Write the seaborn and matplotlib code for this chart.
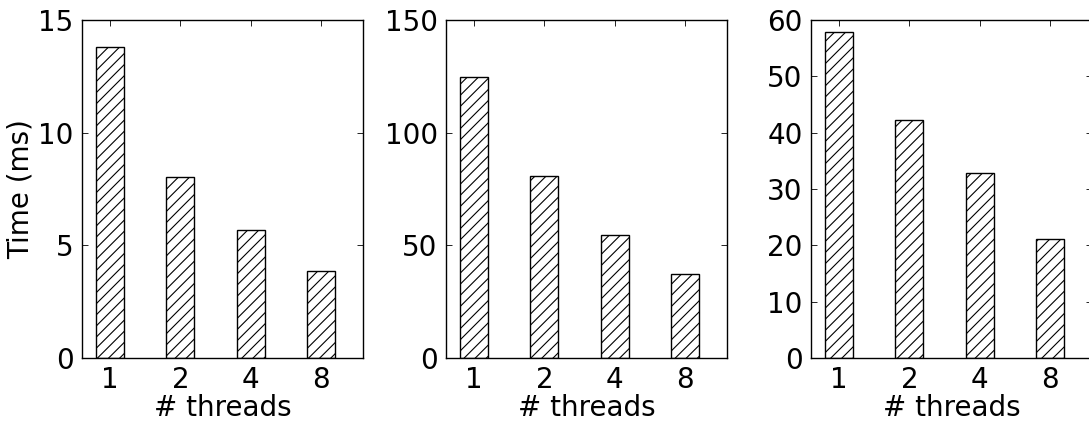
import matplotlib
matplotlib.use("Agg")
import matplotlib.pyplot as plt
import seaborn as sns
import pandas as pd

threads = ["1", "2", "4", "8"]
times_a = [13.8, 8.03, 5.67, 3.85]
times_b = [124.5, 80.7, 54.8, 37.2]
times_c = [57.8, 42.3, 32.8, 21.1]
ylims = [15, 150, 60]
yticks = [[0, 5, 10, 15], [0, 50, 100, 150], [0, 10, 20, 30, 40, 50, 60]]

sns.set_theme(style="white")
plt.rcParams.update({
    "font.family": ["DejaVu Sans"],
    "font.size": 20,
    "text.color": "black",
    "axes.labelcolor": "black",
    "xtick.color": "black",
    "ytick.color": "black",
    "axes.edgecolor": "black",
    "axes.linewidth": 1.0,
    "hatch.linewidth": 0.8,
    "hatch.color": "black",
    "xtick.direction": "in",
    "ytick.direction": "in",
    "xtick.top": True,
    "ytick.right": True,
    "xtick.major.size": 4,
    "ytick.major.size": 4,
    "xtick.major.width": 0.6,
    "ytick.major.width": 0.6,
    "xtick.major.pad": 6,
    "ytick.major.pad": 6,
    "xtick.bottom": True,
    "ytick.left": True,
})

fig = plt.figure(figsize=(10.89, 4.23), dpi=100)
lefts = [82 / 1089, 446 / 1089, 811 / 1089]
w = 281 / 1089
b = (423 - 358) / 423
h = 338 / 423

for i, vals in enumerate([times_a, times_b, times_c]):
    ax = fig.add_axes([lefts[i], b, w, h])
    df = pd.DataFrame({"threads": threads, "time": vals})
    sns.barplot(data=df, x="threads", y="time", ax=ax, color="white",
                edgecolor="black", linewidth=1.0, width=0.4, hatch="///",
                saturation=1)
    ax.set_xlim(-0.4, 3.6)
    ax.set_ylim(0, ylims[i])
    ax.set_yticks(yticks[i])
    ax.tick_params(axis="both", labelsize=20, colors="black")
    ax.set_xlabel("# threads", fontsize=20, labelpad=0, color="black")
    if i == 0:
        ax.set_ylabel("Time (ms)", fontsize=20, color="black")
        ax.yaxis.set_label_coords(-0.17, 0.5)
    else:
        ax.set_ylabel("")
    for s in ax.spines.values():
        s.set_visible(True)
        s.set_color("black")

fig.savefig("out.png", dpi=100)
